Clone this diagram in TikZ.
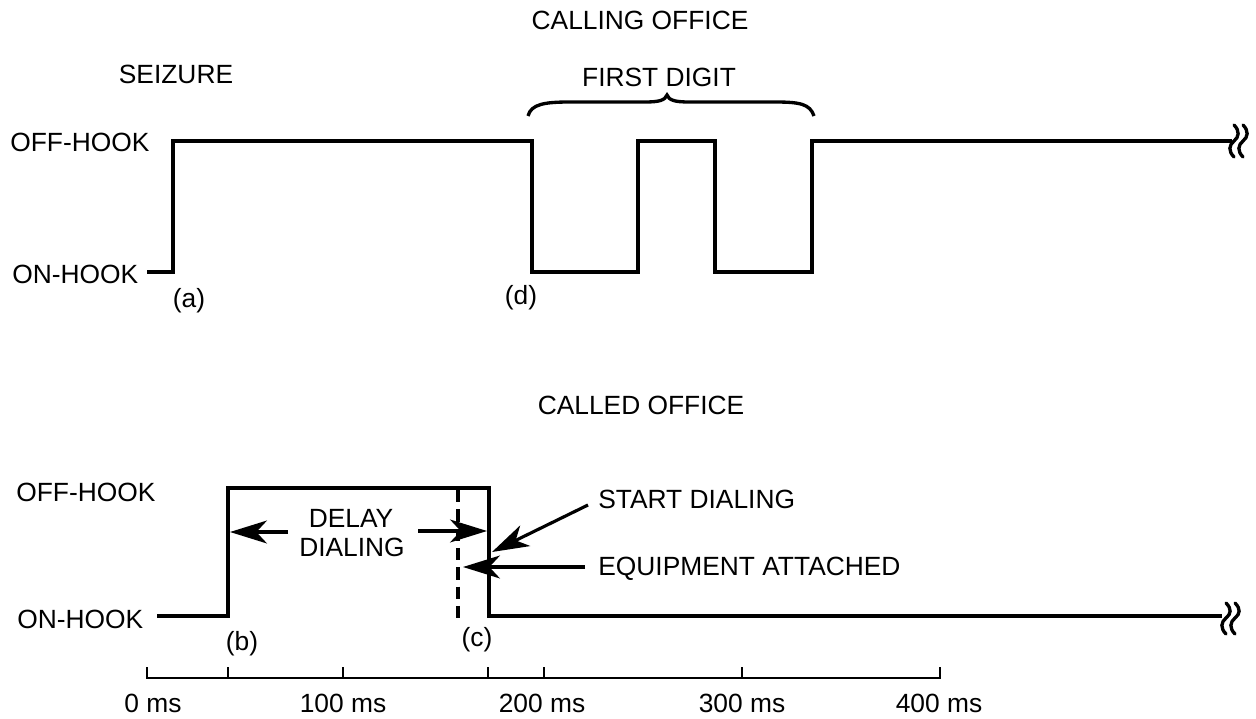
\documentclass[tikz,border=0pt]{standalone}
\usepackage{fontspec}
\setmainfont{Liberation Sans}
\usetikzlibrary{arrows.meta}
\begin{document}
\begin{tikzpicture}[x=0.02cm,y=-0.02cm,
  lbl/.style={inner sep=0pt,text height=10.7pt,text depth=0pt,font=\fontsize{15}{18}\selectfont},
  wave/.style={line width=2.3pt,line join=miter,line cap=butt},
  axisline/.style={line width=1.3pt},
  brk/.style={line width=1.9pt,line cap=round},
  ptr/.style={line width=1.8pt,-{Stealth[length=21pt,width=13pt,inset=6pt]}},
  dashline/.style={line width=1.8pt,dash pattern=on 7pt off 4pt}]
\useasboundingbox (0,0) rectangle (1256,719);

% ---- titles and labels ----
\node[lbl] (calling) at (640,20) {CALLING OFFICE};
\node[lbl] (seizure) at (176,74) {SEIZURE};
\node[lbl] (first) at (659,77) {FIRST DIGIT};
\node[lbl,anchor=west] (offtop) at (10,142) {OFF-HOOK};
\node[lbl,anchor=west] (ontop) at (12,274) {ON-HOOK};
\node[lbl] (la) at (189,298) {(a)};
\node[lbl] (ld) at (521,295) {(d)};
\node[lbl] (called) at (641,405) {CALLED OFFICE};
\node[lbl,anchor=west] (offbot) at (16,492) {OFF-HOOK};
\node[lbl,anchor=west] (onbot) at (17,619) {ON-HOOK};
\node[lbl] (delay) at (351,518) {DELAY};
\node[lbl] (dialing) at (352,547) {DIALING};
\node[lbl] (lb) at (242,641) {(b)};
\node[lbl] (lc) at (477,637) {(c)};
\node[lbl,anchor=west] (start) at (598,499) {START DIALING};
\node[lbl,anchor=west] (equip) at (598,566) {EQUIPMENT ATTACHED};
\node[lbl] (t0) at (153,703) {0 ms};
\node[lbl] (t1) at (343,703) {100 ms};
\node[lbl] (t2) at (542,703) {200 ms};
\node[lbl] (t3) at (742,703) {300 ms};
\node[lbl] (t4) at (939,703) {400 ms};

% ---- calling office waveform ----
\draw[wave] (147,272) -- (173,272) -- (173,141) -- (532,141) -- (532,272)
  -- (638,272) -- (638,141) -- (715,141) -- (715,272) -- (812,272)
  -- (812,141) -- (1232,141);
\foreach \bx in {1234,1243}
  \draw[brk] (\bx,125) .. controls (\bx+6,131) and (\bx+5,137) .. (\bx,141)
    .. controls (\bx-5,145) and (\bx-6,151) .. (\bx,157);

% brace over first digit
\draw[line width=1.9pt] (528,116) .. controls (531,104) and (545,102) .. (570,102)
  -- (645,102) .. controls (660,102) and (665,100) .. (667,95)
  .. controls (669,100) and (674,102) .. (689,102)
  -- (775,102) .. controls (800,102) and (810,104) .. (814,116);

% ---- called office waveform ----
\draw[wave] (157,616) -- (228,616) -- (228,488) -- (489,488) -- (489,616) -- (1222,616);
\foreach \bx in {1226,1235}
  \draw[brk] (\bx,603) .. controls (\bx+6,609) and (\bx+5,614) .. (\bx,618)
    .. controls (\bx-5,622) and (\bx-6,628) .. (\bx,634);
\draw[dashline] (458,490) -- (458,618);

% ---- arrows ----
\coordinate (dl0) at (288,532);
\coordinate (dl1) at (230,532);
\coordinate (dr0) at (418,531);
\coordinate (dr1) at (487,531);
\coordinate (sd0) at (588,505);
\coordinate (sd1) at (492,552);
\coordinate (eq0) at (585,567);
\coordinate (eq1) at (463,567);
\draw[ptr] (dl0) -- (dl1);
\draw[ptr] (dr0) -- (dr1);
\draw[ptr] (sd0) -- (sd1);
\draw[ptr] (eq0) -- (eq1);

% ---- time axis ----
\draw[axisline] (147,667) -- (147,678) -- (940,678) -- (940,667);
\foreach \tx in {228,343,488,544,742}
  \draw[axisline] (\tx,678) -- (\tx,667);
\end{tikzpicture}
\end{document}
